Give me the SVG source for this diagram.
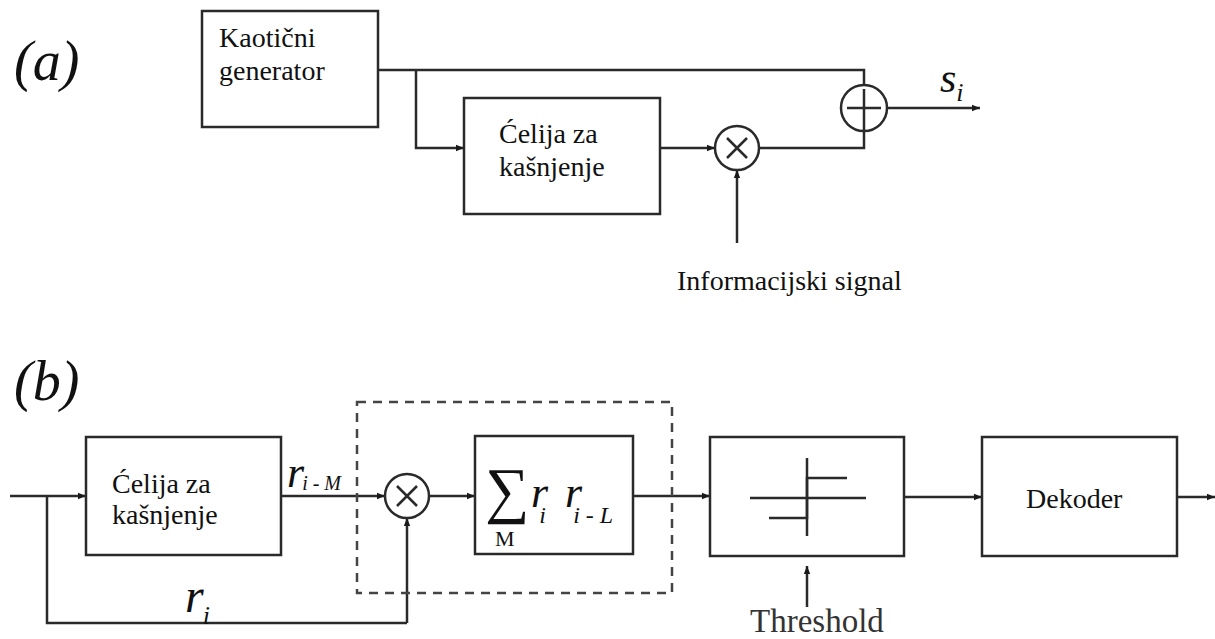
<svg xmlns="http://www.w3.org/2000/svg" width="1215" height="639" viewBox="0 0 1215 639">
<defs>
<marker id="ah" viewBox="0 0 10 10" refX="10" refY="5" markerWidth="11" markerHeight="8" markerUnits="userSpaceOnUse" orient="auto">
<path d="M0,1 L10,5 L0,9 Z" fill="#1a1a1a"/>
</marker>
<style>
.box{fill:#fff;stroke:#2a2a2a;stroke-width:2.5}
.ln{fill:none;stroke:#2a2a2a;stroke-width:2.5}
.arr{fill:none;stroke:#2a2a2a;stroke-width:2.5;marker-end:url(#ah)}
.op{fill:#fff;stroke:#2a2a2a;stroke-width:2.5}
.dash{fill:none;stroke:#444;stroke-width:2.5;stroke-dasharray:9 7}
</style>
</defs>
<rect width="1215" height="639" fill="#fff"/>

<g font-family="'Liberation Serif', 'Times New Roman', 'DejaVu Serif', serif" fill="#111">
<text x="14" y="80" font-size="56" font-style="italic">(a)</text>
<text x="14" y="400" font-size="56" font-style="italic">(b)</text>
</g>

<g id="connectors">
<path class="ln" d="M378,70 H864 V85"/>
<path class="arr" d="M416,70 V148 H464"/>
<path class="arr" d="M660,148 H715"/>
<path class="arr" d="M737,243 V170"/>
<path class="ln" d="M759,148 H864 V131"/>
<path class="arr" d="M887,108 H980"/>
<path class="arr" d="M10,496 H86"/>
<path class="ln" d="M47,496 V623 H407"/>
<path class="arr" d="M407,623 V518"/>
<path class="arr" d="M281,496 H385"/>
<path class="arr" d="M429,496 H475"/>
<path class="arr" d="M633,496 H710"/>
<path class="arr" d="M904,497 H982"/>
<path class="arr" d="M1177,497 H1215"/>
<path class="arr" d="M807,607 V566"/>
</g>

<g id="dashed-group">
<rect class="dash" x="357" y="402" width="315" height="191"/>
</g>

<g font-family="'Liberation Serif', 'Times New Roman', 'DejaVu Serif', serif" fill="#111">
<g id="kaoticni-generator">
<rect class="box" x="202" y="11" width="176" height="116"/>
<text x="219" y="47" font-size="28">Kaotični</text>
<text x="219" y="80" font-size="28">generator</text>
</g>

<g id="celija-a">
<rect class="box" x="464" y="98" width="196" height="116"/>
<text x="499" y="143" font-size="28">Ćelija za</text>
<text x="499" y="176" font-size="28">kašnjenje</text>
</g>

<g id="mult-a">
<circle class="op" cx="737" cy="148" r="22"/>
<path class="ln" d="M727,138 L747,158 M747,138 L727,158" stroke-width="2"/>
</g>

<g id="sum-a">
<circle class="op" cx="864" cy="108" r="23"/>
<path class="ln" d="M847,108 H881 M864,89 V131" stroke-width="3.5"/>
</g>

<g id="si-label" font-style="italic">
<text x="940" y="92" font-size="42">s<tspan font-size="26" dy="9">i</tspan></text>
</g>

<g id="info-signal">
<text x="677" y="290" font-size="28">Informacijski signal</text>
</g>

<g id="celija-b">
<rect class="box" x="86" y="437" width="195" height="118"/>
<text x="112" y="493" font-size="28">Ćelija za</text>
<text x="112" y="524" font-size="28">kašnjenje</text>
</g>

<g id="rim-label" font-style="italic">
<text x="287" y="487" font-size="44">r<tspan font-size="20" dx="-2" dy="3">i - M</tspan></text>
</g>

<g id="ri-label" font-style="italic">
<text x="185" y="612" font-size="48">r<tspan font-size="26" dx="-1" dy="12">i</tspan></text>
</g>

<g id="mult-b">
<circle class="op" cx="407" cy="496" r="22"/>
<path class="ln" d="M397,486 L417,506 M417,486 L397,506" stroke-width="2"/>
</g>

<g id="sum-box">
<rect class="box" x="475" y="436" width="158" height="118"/>
<text x="485" y="511" font-size="62">∑</text>
<text x="495" y="546" font-size="22">M</text>
<text x="531" y="507" font-size="44" font-style="italic">r<tspan font-size="24" dx="-9" dy="16">i</tspan></text>
<text x="565" y="507" font-size="44" font-style="italic">r<tspan font-size="24" dx="-9" dy="16">i - L</tspan></text>
</g>

<g id="threshold-box">
<rect class="box" x="710" y="437" width="194" height="119"/>
<path class="ln" d="M750,498 H866 M807,458 V536"/>
<path class="ln" d="M769,518 H807 V478 H847" stroke-width="4"/>
<text x="750" y="632" font-size="33" fill="#333">Threshold</text>
</g>

<g id="dekoder">
<rect class="box" x="982" y="437" width="195" height="119"/>
<text x="1026" y="508" font-size="28">Dekoder</text>
</g>
</g>
</svg>
